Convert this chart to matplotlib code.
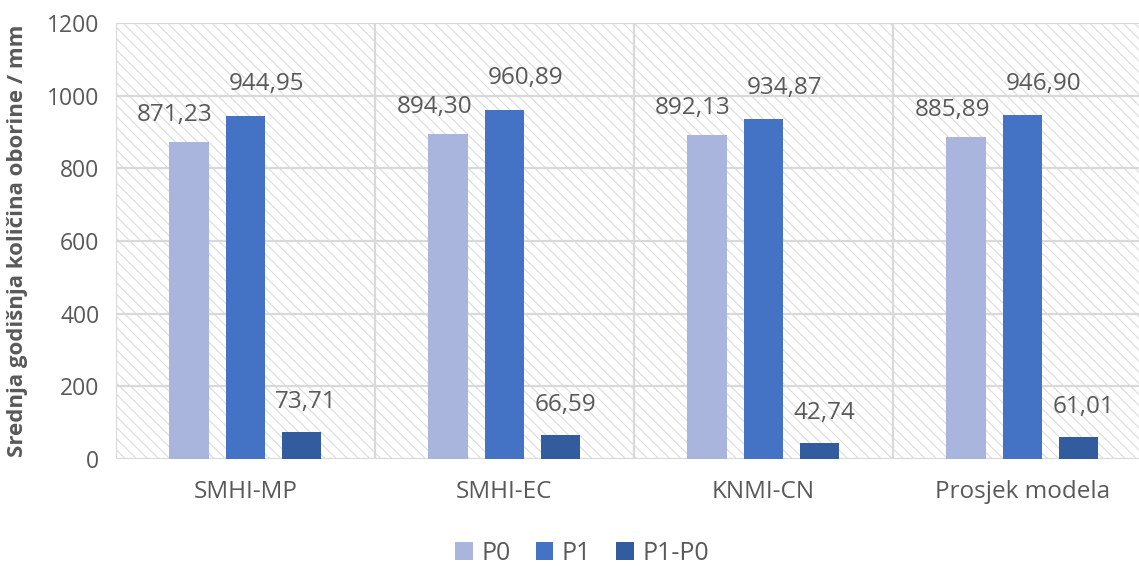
import matplotlib.pyplot as plt
from matplotlib.patches import Rectangle
import numpy as np

plt.rcParams['font.family'] = ['Open Sans', 'DejaVu Sans']
plt.rcParams['hatch.linewidth'] = 0.8

# podaci
categories = ["SMHI-MP", "SMHI-EC", "KNMI-CN", "Prosjek modela"]
p0 = [871.23, 894.30, 892.13, 885.89]
p1 = [944.95, 960.89, 934.87, 946.90]
diff = [73.71, 66.59, 42.74, 61.01]
series_names = ["P0", "P1", "P1-P0"]
yticks = [0, 200, 400, 600, 800, 1000, 1200]

colors = ["#A9B5DC", "#4472C4", "#335C9F"]
label_dx = [-10, 15, 3]   # pomak natpisa u točkama
label_dy = [11, 14, 13]
txt = "#595959"
grid = "#D9D9D9"

fig = plt.figure(figsize=(11.39, 5.68), dpi=100)
ax = fig.add_axes([0.1018, 0.1919, 0.9096, 0.7676])

x = np.arange(len(categories))
width = 0.151
step = 0.218

ax.set_xlim(-0.5, 3.5)
ax.set_ylim(0, 1200)

# šrafirana pozadina
bg = Rectangle((0, 0), 1, 1, transform=ax.transAxes, facecolor="white",
               edgecolor="#DCDCDC", hatch="\\\\\\", linewidth=0, zorder=0)
ax.add_patch(bg)

for yv in yticks:
    ax.axhline(yv, color=grid, linewidth=1.6, zorder=1)
for xv in np.arange(-0.5, 4.0, 1.0):
    ax.axvline(xv, color=grid, linewidth=1.6, zorder=1)

for i, (vals, name) in enumerate(zip([p0, p1, diff], series_names)):
    pos = x + (i - 1) * step
    ax.bar(pos, vals, width, color=colors[i], label=name, zorder=3)
    for px, v in zip(pos, vals):
        ax.annotate(f"{v:.2f}".replace(".", ","), (px, v),
                    xytext=(label_dx[i], label_dy[i]), textcoords="offset points",
                    ha="center", va="bottom", fontsize=17.5, color=txt)

for s in ax.spines.values():
    s.set_visible(False)

ax.set_xticks(x)
ax.set_xticklabels(categories, fontsize=17.5, color=txt)
ax.set_yticks(yticks)
ax.set_yticklabels([str(v) for v in yticks], fontsize=16.5, color=txt)
ax.tick_params(length=0, pad=12)
ax.tick_params(axis="x", pad=15)
ax.set_ylabel("Srednja godišnja količina oborine / mm", fontsize=16,
              fontweight="bold", color=txt)
ax.yaxis.set_label_coords(-0.085, 0.5)

fig.legend(loc="center", bbox_to_anchor=(582 / 1139, 1 - 553 / 568), ncol=3,
           frameon=False, fontsize=18, handlelength=0.7, handleheight=0.7,
           handletextpad=0.35, columnspacing=1.0, labelcolor=txt)

fig.savefig("out.png", dpi=100)
